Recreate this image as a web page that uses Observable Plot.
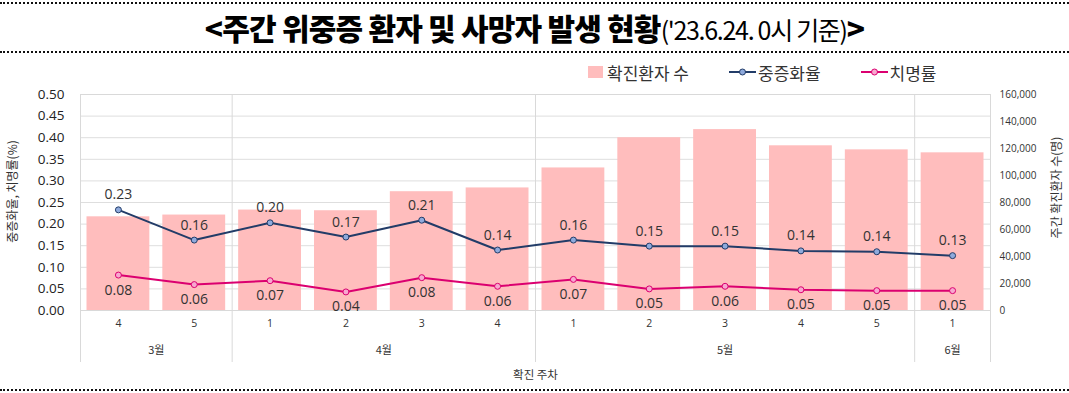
<!DOCTYPE html>
<html><head><meta charset="utf-8">
<script src="https://cdn.jsdelivr.net/npm/d3@7"></script>
<script src="https://cdn.jsdelivr.net/npm/@observablehq/plot@0.6"></script>
<style>
body{margin:0;background:#fff;}
#wrap{position:relative;width:1069px;height:393px;overflow:hidden;font-family:"Noto Sans CJK KR","Noto Sans",sans-serif;background:#fff;}
#title{position:absolute;left:0;top:2px;width:1069px;height:47px;border-top:2px dotted #111;border-bottom:2px dotted #111;text-align:center;line-height:47px;white-space:nowrap;}
#title .main{font-size:30px;font-weight:900;letter-spacing:-0.8px;color:#000;}
#title .sub{font-size:25px;font-weight:400;letter-spacing:-1.3px;color:#000;}
#bottomline{position:absolute;left:0;top:389px;width:1069px;border-top:2px dotted #111;}
#legend{position:absolute;z-index:2;top:62px;left:587px;height:20px;font-size:17px;color:#333;display:flex;align-items:center;white-space:nowrap;}
#legend .item{display:flex;align-items:center;margin-right:40px;}
#legend svg{display:block;margin-right:2px;}
#chart{position:absolute;z-index:1;left:0;top:55px;}
</style></head>
<body><div id="wrap">
<div id="title"><span class="main">&lt;주간 위중증 환자 및 사망자 발생 현황</span><span class="sub">('23.6.24. 0시 기준)</span><span class="main">&gt;</span></div>
<div id="chart"></div>
<div id="legend"></div>
<div id="bottomline"></div>
</div>
<script>
const weeks = ["4","5","1","2","3","4","1","2","3","4","5","1"];
const months = ["3월","4월","5월","6월"];
const monthStart = [0,2,6,11];
const monthEnd = [2,6,11,12];
const cases = [69400,70700,74400,73900,88000,90800,105600,128000,134000,122000,119000,116800];
const severe = [0.233,0.163,0.203,0.170,0.209,0.140,0.163,0.149,0.149,0.138,0.136,0.127];
const fatal = [0.082,0.060,0.069,0.043,0.076,0.056,0.072,0.050,0.056,0.048,0.046,0.046];
const leftTicks = [0,0.05,0.10,0.15,0.20,0.25,0.30,0.35,0.40,0.45,0.50];
const rightTicks = [0,20000,40000,60000,80000,100000,120000,140000,160000];
const seriesNames = ["확진환자 수","중증화율","치명률"];

const colBar = "#FFBDBD", colSev = "#223C68", colSevPt = "#8FAADC", colFat = "#DB0070", colFatPt = "#F7A8CF";
const k = 0.5 / 160000;
const idx = d3.range(weeks.length);
const mIdx = d3.range(months.length);
const fmt2 = d3.format(".2f");
const numFont = "'Open Sans','Noto Sans',sans-serif";
const krFont = "'Noto Sans CJK KR',sans-serif";

const chart = Plot.plot({
  width: 1069, height: 338,
  marginLeft: 80, marginRight: 79, marginTop: 39, marginBottom: 83,
  style: {fontFamily: numFont, background: "transparent", overflow: "visible"},
  x: {domain: [0, 12], axis: null},
  y: {domain: [0, 0.5]},
  marks: [
    Plot.ruleY(leftTicks.slice(1), {stroke: "#dedede", strokeWidth: 1}),
    Plot.rectY(idx, {x1: i => i, x2: i => i + 1, y1: 0, y2: i => cases[i] * k, fill: colBar, insetLeft: 6.5, insetRight: 6.5}),
    Plot.frame({stroke: "#d9d9d9"}),
    Plot.ruleX([0, ...monthEnd], {stroke: "#d9d9d9", insetBottom: -52}),
    Plot.line(idx, {x: i => i + 0.5, y: i => severe[i], stroke: colSev, strokeWidth: 2}),
    Plot.dot(idx, {x: i => i + 0.5, y: i => severe[i], r: 3, fill: colSevPt, stroke: colSev, strokeWidth: 1}),
    Plot.line(idx, {x: i => i + 0.5, y: i => fatal[i], stroke: colFat, strokeWidth: 2}),
    Plot.dot(idx, {x: i => i + 0.5, y: i => fatal[i], r: 3, fill: colFatPt, stroke: colFat, strokeWidth: 1}),
    Plot.text(idx, {x: i => i + 0.5, y: i => severe[i], text: i => fmt2(severe[i]), dy: -15, fontSize: 14, fill: "#333"}),
    Plot.text(idx, {x: i => i + 0.5, y: i => fatal[i], text: i => fmt2(fatal[i]), dy: 15, fontSize: 14, fill: "#333"}),
    Plot.axisY(leftTicks, {anchor: "left", tickFormat: fmt2, tickSize: 0, tickPadding: 16, fontSize: 13.5, label: null, fill: "#222"}),
    Plot.axisY(rightTicks.map(v => v * k), {anchor: "right", tickFormat: v => d3.format(",")(Math.round(v / k)), tickSize: 0, tickPadding: 9, fontSize: 10, label: null, fill: "#333"}),
    Plot.text(idx, {x: i => i + 0.5, text: i => weeks[i], frameAnchor: "bottom", dy: 16, fontSize: 10.5, fill: "#333"}),
    Plot.text(mIdx, {x: i => (monthStart[i] + monthEnd[i]) / 2, text: i => months[i], frameAnchor: "bottom", dy: 43, fontSize: 11, fill: "#333", fontFamily: krFont}),
    Plot.text(["확진 주차"], {x: 6, frameAnchor: "bottom", dy: 68, fontSize: 11.5, fill: "#333", fontFamily: krFont}),
    Plot.text(["중증화율, 치명률(%)"], {frameAnchor: "left", textAnchor: "middle", dx: -67, dy: -11, rotate: -90, fontSize: 12, fill: "#333", fontFamily: krFont}),
    Plot.text(["주간 확진환자 수(명)"], {frameAnchor: "right", textAnchor: "middle", dx: 67, dy: -15, rotate: -90, fontSize: 12, fill: "#333", fontFamily: krFont})
  ]
});
document.getElementById("chart").appendChild(chart);

// legend
const leg = document.getElementById("legend");
const sym = [
  `<svg width="18" height="14"><rect x="1" y="1" width="15" height="12" fill="${colBar}"/></svg>`,
  `<svg width="27" height="14"><line x1="0" y1="7" x2="27" y2="7" stroke="${colSev}" stroke-width="2"/><circle cx="13.5" cy="7" r="3" fill="${colSevPt}" stroke="${colSev}"/></svg>`,
  `<svg width="27" height="14"><line x1="0" y1="7" x2="27" y2="7" stroke="${colFat}" stroke-width="2"/><circle cx="13.5" cy="7" r="3" fill="${colFatPt}" stroke="${colFat}"/></svg>`
];
seriesNames.forEach((n, i) => {
  const d = document.createElement("div");
  d.className = "item";
  d.innerHTML = sym[i] + `<span>${n}</span>`;
  leg.appendChild(d);
});
</script>
</body></html>
